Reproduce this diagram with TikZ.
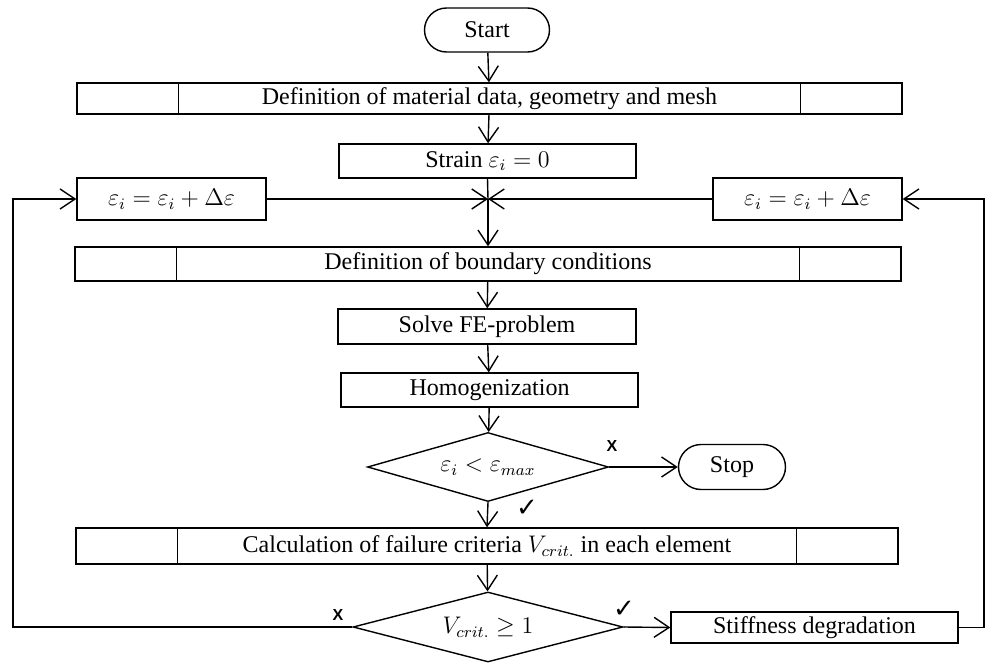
\documentclass[tikz,border=0pt]{standalone}
\usepackage{fontspec}
\setmainfont{Liberation Serif}
\newfontfamily\markfont{Liberation Sans}
\newfontfamily\symfont{DejaVu Sans}
\usetikzlibrary{arrows.meta,shapes.geometric,shapes.misc}
\tikzset{
    every node/.style={font=\fontsize{12}{14}\selectfont, inner sep=1pt, line width=0.7pt},
    proc/.style={draw, rectangle, minimum height=17pt},
    term/.style={draw, rounded rectangle, minimum width=60pt, minimum height=22pt},
    dec/.style={draw, diamond, aspect=3.5, inner sep=0pt},
    lbl/.style={font=\markfont\bfseries\fontsize{8}{9}\selectfont},
    tick/.style={font=\symfont\fontsize{13}{14}\selectfont},
    flow/.style={->, line width=0.7pt}
}
\begin{document}
\begin{tikzpicture}[x=0.5pt, y=-0.5pt, >={Straight Barb[length=7.5pt,width=10pt]}]
    \useasboundingbox (0,0) rectangle (987,664);
    \node[term, minimum width=64.5pt] (start) at (487,30) {Start};
    \node[proc, minimum width=412.5pt, minimum height=15.5pt] (def1) at (489.5,98.5) {Definition of material data, geometry and mesh};
    \node[proc, minimum width=148.5pt] (strain) at (487.5,161) {Strain $\varepsilon_i = 0$};
    \node[proc, minimum width=94.5pt, minimum height=21pt] (incl) at (171.5,199) {$\varepsilon_i = \varepsilon_i + \Delta\varepsilon$};
    \node[proc, minimum width=94.5pt, minimum height=21pt] (incr) at (807.5,199) {$\varepsilon_i = \varepsilon_i + \Delta\varepsilon$};
    \coordinate (join) at (488,199);
    \node[proc, minimum width=413pt] (bc) at (488,264) {Definition of boundary conditions};
    \node[proc, minimum width=149pt, minimum height=17.5pt] (solve) at (487,326.5) {Solve FE-problem};
    \node[proc, minimum width=148.5pt] (homog) at (489.5,390) {Homogenization};
    \node[dec, minimum width=120.5pt, minimum height=34.5pt] (chkeps) at (488,467) {$\varepsilon_i < \varepsilon_{max}$};
    \node[term, minimum width=55.5pt, minimum height=22.5pt] (stop) at (732,467) {Stop};
    \node[proc, minimum width=411pt, minimum height=18pt] (calc) at (487,546) {Calculation of failure criteria $V_{crit.}$ in each element};
    \node[dec, minimum width=135pt, minimum height=35pt] (chkv) at (488,627) {$V_{crit.} \geq 1$};
    \node[proc, minimum width=143.5pt, minimum height=15.5pt] (stiff) at (814.5,627.5) {Stiffness degradation};
    \coordinate (lft) at (13,199);
    \coordinate (rgt) at (984,199);
    \foreach \b in {def1,bc,calc}{
        \draw[line width=0.7pt] ([xshift=51pt]\b.north west) -- ([xshift=51pt]\b.south west);
        \draw[line width=0.7pt] ([xshift=-51pt]\b.north east) -- ([xshift=-51pt]\b.south east);
    }
    \draw[flow] (start) -- (def1);
    \draw[flow] (def1) -- (strain);
    \draw[line width=0.7pt] (strain.south) -- (join);
    \draw[flow] (join) -- (bc.north);
    \draw[flow] (incl.east) -- (join);
    \draw[flow] (incr.west) -- (join);
    \draw[flow] (bc) -- (solve);
    \draw[flow] (solve) -- (homog);
    \draw[flow] (homog) -- (chkeps);
    \draw[flow] (chkeps.east) -- (stop.west);
    \draw[flow] (chkeps.south) -- (calc.north);
    \draw[flow] (calc) -- (chkv);
    \draw[flow] (chkv.east) -- (stiff.west);
    \draw[flow] (chkv.west) -| (lft) -- (incl.west);
    \draw[flow] (stiff.east) -| (rgt) -- (incr.east);
    \node[lbl] (no1) at (612,446) {X};
    \node[tick] (yes1) at (527,508) {✓};
    \node[lbl] (no2) at (338,615) {X};
    \node[tick] (yes2) at (624,609) {✓};
\end{tikzpicture}
\end{document}
